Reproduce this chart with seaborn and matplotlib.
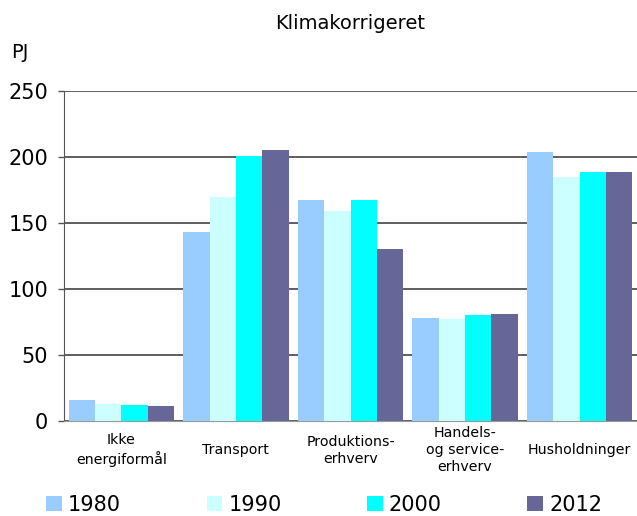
import pandas as pd
import seaborn as sns
import matplotlib.pyplot as plt
from matplotlib.patches import Patch

# Values (PJ)
categories = ["Ikke\nenergiformål", "Transport", "Produktions-\nerhverv",
              "Handels-\nog service-\nerhverv", "Husholdninger"]
years = ["1980", "1990", "2000", "2012"]
v1980 = [16, 143.5, 167.5, 78, 204]
v1990 = [13, 170, 159, 77, 184.5]
v2000 = [12, 201, 167.5, 80, 189]
v2012 = [11.5, 205, 130.5, 81, 189]
colors = ["#99CCFF", "#CCFFFF", "#00FFFF", "#666699"]

rows = []
for yr, vals in zip(years, [v1980, v1990, v2000, v2012]):
    for cat, v in zip(categories, vals):
        rows.append({"Kategori": cat, "År": yr, "PJ": v})
df = pd.DataFrame(rows)

sns.set_style("white")
plt.rcParams["font.family"] = ["DejaVu Sans"]
plt.rcParams["text.color"] = "black"
plt.rcParams["xtick.color"] = "black"
plt.rcParams["ytick.color"] = "black"

fig = plt.figure(figsize=(6.37, 5.16), dpi=100)
ax = fig.add_axes([0.1005, 0.1841, 0.8995, 0.6395])

sns.barplot(data=df, x="Kategori", y="PJ", hue="År", order=categories,
            hue_order=years, palette=colors, width=0.92, gap=0,
            saturation=1, linewidth=0, ax=ax, legend=False, zorder=3)

ax.set_ylim(0, 250)
ax.set_xlim(-0.5, 4.5)
ax.set_yticks([0, 50, 100, 150, 200, 250])
ax.yaxis.grid(True, color="#333333", linewidth=1.1, zorder=0)
ax.set_axisbelow(True)
ax.set_xlabel("")
ax.set_ylabel("")

for s in ["top", "right"]:
    ax.spines[s].set_visible(False)
ax.spines["left"].set_color("#555555")
ax.spines["bottom"].set_color("#999999")

ax.tick_params(axis="y", labelsize=15, length=4.5, width=1, color="#555555",
               labelcolor="black", pad=7, left=True)
ax.tick_params(axis="x", labelsize=10.2, length=0, pad=21, labelcolor="black")
for lab in ax.get_xticklabels():
    lab.set_verticalalignment("center")
    lab.set_linespacing(1.3)

ax.set_title("Klimakorrigeret", fontsize=14, pad=45, x=0.5, color="black")
fig.text(0.018, 0.887, "PJ", fontsize=14, color="black")

handles = [Patch(facecolor=c, edgecolor="none") for c in colors]
fig.legend(handles, years, loc="center", bbox_to_anchor=(0.509, 0.022),
           ncol=4, frameon=False, fontsize=15, handlelength=0.75,
           handleheight=0.75, handletextpad=0.3, columnspacing=4.1,
           labelcolor="black")

fig.savefig("out.png", dpi=100)
